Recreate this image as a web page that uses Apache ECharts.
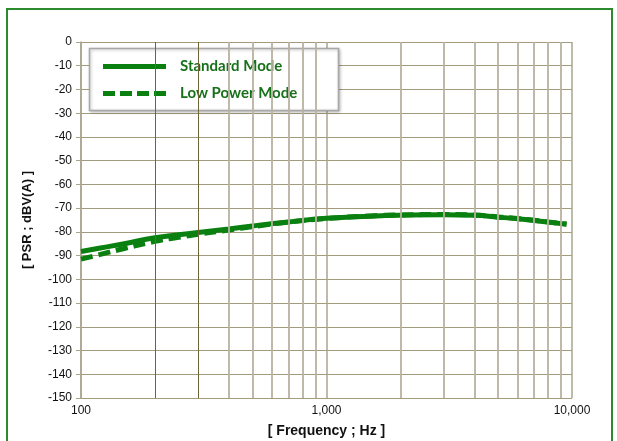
<!DOCTYPE html>
<html>
<head>
<meta charset="utf-8">
<script src="https://cdn.jsdelivr.net/npm/echarts@6/dist/echarts.min.js"></script>
<style>html,body{margin:0;padding:0;background:#fff;}#c{width:617px;height:441px;}</style>
</head>
<body>
<div id="c"></div>
<script>
// Data
var freqStandard = [100, 120, 150, 200, 300, 400, 500, 700, 1000, 1500, 2000, 3000, 4000, 5000, 6000, 7000, 8000, 9500];
var standardMode = [-88.3, -86.8, -85.0, -82.5, -80.3, -78.8, -77.5, -75.8, -74.3, -73.4, -73.0, -72.8, -73.0, -73.8, -74.5, -75.2, -75.9, -76.8];
var freqLowPower = [100, 120, 150, 200, 250, 300, 400, 500, 700, 1000, 1500, 2000, 3000, 4000, 5000, 6000, 7000, 8000, 9500];
var lowPowerMode = [-91.5, -89.5, -87.0, -84.0, -82.3, -81.0, -79.2, -77.8, -75.9, -74.4, -73.3, -72.9, -72.7, -72.9, -73.7, -74.4, -75.1, -75.8, -76.7];
var minorFreqDark = [200, 300];
var minorFreqLight = [400, 500, 600, 700, 800, 900, 2000, 3000, 4000, 5000, 6000, 7000, 8000, 9000];
var seriesNames = ['Standard Mode', 'Low Power Mode'];

function pairs(xs, ys) { return xs.map(function (x, i) { return [x, ys[i]]; }); }

var green = '#0a8010';
var solidIcon = 'path://M0,0H63V5H0Z';
var dashedIcon = 'path://M0,0H12V5H0Z M17,0H29V5H17Z M34,0H46V5H34Z M51,0H63V5H51Z';

var chart = echarts.init(document.getElementById('c'), null, {renderer: 'canvas'});
chart.setOption({
  animation: false,
  backgroundColor: '#ffffff',
  grid: {left: 81, right: 45, top: 42, bottom: 43, outerBoundsMode: 'none', containLabel: false},
  graphic: [
    {type: 'rect', z: 10, silent: true, shape: {x: 7, y: 9, width: 605, height: 460},
     style: {fill: 'none', stroke: '#2b8a2b', lineWidth: 2}},
    {type: 'rect', z: 3, silent: true, shape: {x: 89.5, y: 48.5, width: 249, height: 62},
     style: {fill: '#ffffff', stroke: '#a8a8a8', lineWidth: 1.5,
             shadowBlur: 3, shadowColor: 'rgba(0,0,0,0.25)', shadowOffsetX: 1, shadowOffsetY: 1}}
  ],
  legend: {
    z: 5,
    orient: 'vertical',
    left: 89, top: 48,
    padding: [11, 14, 11, 14],
    itemWidth: 63, itemHeight: 5, itemGap: 12, itemTextGap: 14,
    symbolKeepAspect: true,
    data: [
      {name: seriesNames[0], icon: solidIcon, itemStyle: {color: green}},
      {name: seriesNames[1], icon: dashedIcon, itemStyle: {color: green}}
    ],
    textStyle: {color: '#17701a', fontFamily: 'Lato', fontWeight: 'bold', fontSize: 15, padding: [0, 0, 0, 9]}
  },
  xAxis: {
    type: 'log', logBase: 10, min: 100, max: 10000,
    name: '[ Frequency ; Hz ]', nameLocation: 'middle', nameGap: 26,
    nameTextStyle: {fontFamily: 'Liberation Sans', fontWeight: 'bold', fontSize: 14, color: '#111'},
    axisLine: {show: false},
    axisTick: {show: false},
    axisLabel: {margin: 7, fontFamily: 'Liberation Sans', fontSize: 12, color: '#111',
      formatter: function (v) { return Number(v).toLocaleString('en-US'); }},
    splitLine: {show: true, lineStyle: {color: '#aaa58e', width: 1.5}},
    minorTick: {show: false}
  },
  yAxis: {
    type: 'value', min: -150, max: 0, interval: 10,
    name: '[ PSR ; dBV(A) ]', nameLocation: 'middle', nameGap: 47, nameRotate: 90,
    nameTextStyle: {fontFamily: 'Liberation Sans', fontWeight: 'bold', fontSize: 13, color: '#111'},
    axisLine: {show: true, lineStyle: {color: '#aaa58e', width: 1.5}},
    axisTick: {show: true, length: 5, inside: false, lineStyle: {color: '#aaa58e'}},
    axisLabel: {margin: 9, fontFamily: 'Liberation Sans', fontSize: 12, color: '#111'},
    splitLine: {show: true, lineStyle: {color: '#a39c7c', width: 1.2}}
  },
  series: [
    {
      name: 'gridMinor', type: 'line', data: [], z: 1, silent: true,
      markLine: {
        silent: true, symbol: ['none', 'none'], label: {show: false},
        data: minorFreqLight.map(function (f) { return {xAxis: f, lineStyle: {color: '#b7b2a0', width: 1.8, type: 'solid'}}; })
          .concat(minorFreqDark.map(function (f) { return {xAxis: f, lineStyle: {color: '#6f6534', width: 1, type: 'solid'}}; }))
      }
    },
    {
      name: seriesNames[0], type: 'line', z: 3,
      data: pairs(freqStandard, standardMode),
      smooth: true, showSymbol: false, symbol: 'none',
      itemStyle: {color: green},
      lineStyle: {color: green, width: 5}
    },
    {
      name: seriesNames[1], type: 'line', z: 4,
      data: pairs(freqLowPower, lowPowerMode),
      smooth: true, showSymbol: false, symbol: 'none',
      itemStyle: {color: green},
      lineStyle: {color: green, width: 5, type: [12, 6]}
    }
  ]
});
</script>
</body>
</html>
